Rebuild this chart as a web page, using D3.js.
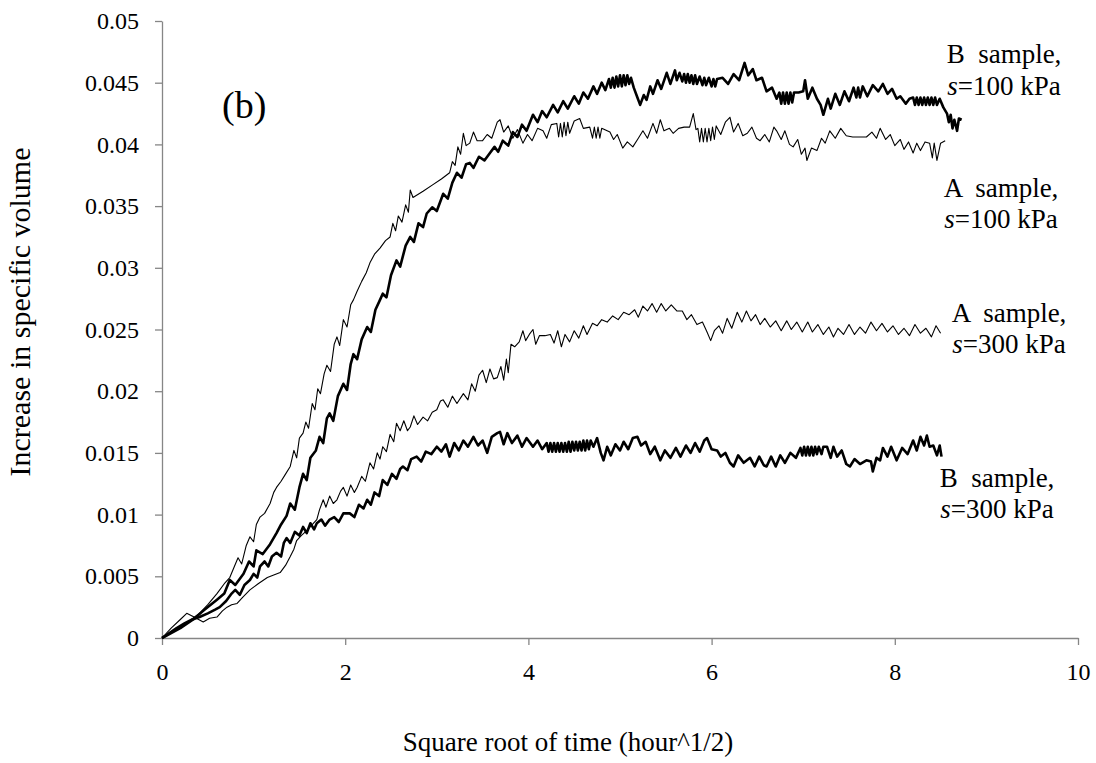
<!DOCTYPE html>
<html>
<head>
<meta charset="utf-8">
<script src="https://cdn.jsdelivr.net/npm/d3@7"></script>
<style>
  body { margin: 0; background: #fff; }
  text { font-family: "Liberation Serif", "Times New Roman", serif; }
</style>
</head>
<body>
<div id="chart"></div>
<script>
// ---- data : [sqrt(t), increase in specific volume] ----
var xTicks = [0, 2, 4, 6, 8, 10];
var yTicks = [0, 0.005, 0.01, 0.015, 0.02, 0.025, 0.03, 0.035, 0.04, 0.045, 0.05];

var bSample100 = [[0,0],[0.1,0.0004],[0.2,0.0008],[0.34,0.0015],[0.45,0.0022],[0.6,0.0031],[0.68,0.0036],[0.74,0.0047],[0.8,0.0043],[0.89,0.0052],[0.95,0.0062],[1.0,0.0058],[1.03,0.0071],[1.1,0.0068],[1.18,0.0076],[1.25,0.0085],[1.3,0.0092],[1.36,0.0099],[1.4,0.0109],[1.45,0.0104],[1.5,0.0122],[1.54,0.0133],[1.58,0.0128],[1.62,0.0146],[1.68,0.0152],[1.72,0.0163],[1.76,0.0158],[1.8,0.0178],[1.83,0.0182],[1.87,0.0176],[1.92,0.0196],[1.98,0.0206],[2.02,0.0201],[2.06,0.0222],[2.09,0.023],[2.13,0.0226],[2.18,0.0242],[2.24,0.0252],[2.28,0.0248],[2.33,0.0266],[2.38,0.0274],[2.41,0.0279],[2.45,0.0276],[2.5,0.0294],[2.56,0.0306],[2.6,0.0301],[2.66,0.0318],[2.71,0.0325],[2.75,0.0321],[2.8,0.0336],[2.85,0.0333],[2.89,0.0344],[2.95,0.0349],[3.0,0.0346],[3.07,0.036],[3.12,0.0356],[3.17,0.0369],[3.22,0.0377],[3.27,0.0373],[3.32,0.0384],[3.36,0.0385],[3.4,0.0381],[3.46,0.039],[3.52,0.0387],[3.58,0.0393],[3.63,0.0398],[3.67,0.0394],[3.72,0.0403],[3.78,0.0399],[3.83,0.041],[3.88,0.0406],[3.93,0.0416],[3.98,0.0411],[4.05,0.0424],[4.1,0.0418],[4.15,0.0427],[4.2,0.0422],[4.27,0.0432],[4.32,0.0426],[4.38,0.0435],[4.43,0.0429],[4.5,0.0439],[4.55,0.0433],[4.6,0.0442],[4.65,0.0437],[4.71,0.0447],[4.75,0.0441],[4.8,0.045],[4.84,0.0444],[4.88,0.0453],[4.9,0.0446],[4.92,0.0454],[4.94,0.0446],[4.96,0.0455],[4.98,0.0447],[5.0,0.0456],[5.02,0.0447],[5.04,0.0456],[5.06,0.0448],[5.08,0.0456],[5.1,0.0449],[5.12,0.0454],[5.15,0.0446],[5.19,0.0438],[5.22,0.0432],[5.26,0.044],[5.29,0.0436],[5.33,0.0447],[5.36,0.0441],[5.41,0.0452],[5.45,0.0445],[5.51,0.0458],[5.55,0.0449],[5.6,0.046],[5.62,0.0452],[5.65,0.0458],[5.68,0.0451],[5.7,0.0457],[5.72,0.045],[5.74,0.0457],[5.76,0.045],[5.78,0.0456],[5.8,0.0449],[5.82,0.0456],[5.84,0.0449],[5.87,0.0455],[5.9,0.0448],[5.92,0.0454],[5.94,0.0448],[5.97,0.0454],[6.0,0.0447],[6.02,0.0453],[6.04,0.0447],[6.06,0.0453],[6.12,0.0454],[6.18,0.0449],[6.24,0.0457],[6.3,0.0452],[6.36,0.0466],[6.4,0.0456],[6.45,0.0461],[6.49,0.0452],[6.55,0.0454],[6.6,0.0443],[6.66,0.0446],[6.71,0.0437],[6.74,0.0442],[6.76,0.0433],[6.78,0.0442],[6.8,0.0433],[6.82,0.0442],[6.84,0.0433],[6.86,0.0442],[6.88,0.0434],[6.9,0.0442],[6.95,0.0442],[7.0,0.0443],[7.02,0.0452],[7.05,0.0437],[7.1,0.0446],[7.15,0.0437],[7.19,0.0432],[7.22,0.0424],[7.27,0.0437],[7.3,0.0429],[7.35,0.0441],[7.4,0.0432],[7.45,0.0443],[7.5,0.0435],[7.55,0.0446],[7.58,0.0438],[7.6,0.0446],[7.62,0.0438],[7.65,0.0447],[7.7,0.0439],[7.76,0.0448],[7.82,0.0443],[7.87,0.0449],[7.92,0.0441],[7.97,0.0445],[8.02,0.0437],[8.06,0.0439],[8.12,0.0433],[8.16,0.0437],[8.2,0.0438],[8.22,0.0432],[8.24,0.0438],[8.26,0.0432],[8.28,0.0438],[8.3,0.0432],[8.32,0.0438],[8.34,0.0432],[8.36,0.0438],[8.38,0.0432],[8.4,0.0438],[8.42,0.0432],[8.44,0.0438],[8.46,0.0432],[8.49,0.0437],[8.53,0.043],[8.57,0.0425],[8.59,0.0418],[8.61,0.0424],[8.63,0.0413],[8.65,0.042],[8.68,0.0411],[8.7,0.0421],[8.73,0.042]];

var aSample100 = [[0,0],[0.15,0.0007],[0.3,0.0014],[0.41,0.002],[0.5,0.0027],[0.6,0.0036],[0.68,0.0044],[0.74,0.0049],[0.79,0.0058],[0.83,0.0065],[0.87,0.006],[0.92,0.0075],[0.96,0.0082],[1.0,0.0078],[1.03,0.0092],[1.07,0.0098],[1.12,0.0101],[1.18,0.0109],[1.22,0.0118],[1.25,0.0122],[1.3,0.0127],[1.35,0.0133],[1.4,0.0139],[1.44,0.0152],[1.47,0.0146],[1.5,0.0162],[1.54,0.0166],[1.57,0.0175],[1.6,0.017],[1.64,0.019],[1.67,0.0185],[1.7,0.0202],[1.73,0.0198],[1.77,0.0214],[1.8,0.0221],[1.84,0.0216],[1.88,0.0238],[1.91,0.0244],[1.94,0.0237],[1.98,0.0258],[2.02,0.0252],[2.06,0.027],[2.09,0.0274],[2.13,0.0281],[2.18,0.0289],[2.23,0.0296],[2.27,0.0304],[2.32,0.0311],[2.38,0.0316],[2.44,0.0322],[2.49,0.0325],[2.52,0.0336],[2.55,0.033],[2.58,0.0342],[2.62,0.0337],[2.66,0.0351],[2.69,0.0345],[2.71,0.0363],[2.74,0.0357],[2.85,0.0362],[2.95,0.0367],[3.05,0.0372],[3.14,0.0377],[3.17,0.0386],[3.2,0.0383],[3.23,0.0398],[3.26,0.0392],[3.29,0.0409],[3.32,0.0399],[3.36,0.0401],[3.4,0.041],[3.44,0.0403],[3.5,0.0403],[3.55,0.0408],[3.6,0.0405],[3.66,0.0418],[3.69,0.042],[3.73,0.041],[3.78,0.0415],[3.83,0.0405],[3.88,0.0412],[3.94,0.0401],[3.99,0.0408],[4.04,0.0403],[4.1,0.0413],[4.16,0.0411],[4.2,0.0405],[4.25,0.0416],[4.31,0.0417],[4.33,0.0406],[4.35,0.0417],[4.37,0.0406],[4.39,0.0418],[4.41,0.0407],[4.43,0.0418],[4.45,0.0409],[4.5,0.0419],[4.56,0.0421],[4.6,0.0413],[4.67,0.0414],[4.7,0.0405],[4.72,0.0414],[4.74,0.0405],[4.76,0.0414],[4.78,0.0405],[4.8,0.0413],[4.83,0.0412],[4.89,0.041],[4.93,0.0404],[4.97,0.0408],[5.03,0.0397],[5.08,0.0402],[5.14,0.0398],[5.2,0.0405],[5.25,0.0411],[5.3,0.0405],[5.36,0.0417],[5.4,0.0409],[5.44,0.042],[5.48,0.0411],[5.54,0.0413],[5.58,0.0409],[5.64,0.0413],[5.7,0.0414],[5.76,0.0414],[5.8,0.0425],[5.83,0.0412],[5.85,0.0413],[5.87,0.0402],[5.89,0.0413],[5.91,0.0402],[5.93,0.0413],[5.95,0.0402],[5.97,0.0413],[5.99,0.0403],[6.01,0.0414],[6.03,0.0404],[6.05,0.0415],[6.1,0.0408],[6.15,0.0418],[6.2,0.0422],[6.24,0.041],[6.29,0.0417],[6.34,0.0407],[6.39,0.0409],[6.44,0.0414],[6.49,0.0405],[6.53,0.0403],[6.58,0.0408],[6.63,0.0402],[6.68,0.0414],[6.71,0.0411],[6.76,0.0404],[6.8,0.0411],[6.85,0.04],[6.89,0.0398],[6.94,0.0404],[6.98,0.0392],[7.02,0.0397],[7.04,0.0387],[7.09,0.0397],[7.15,0.0395],[7.2,0.0405],[7.24,0.0401],[7.29,0.0411],[7.35,0.0405],[7.41,0.0413],[7.47,0.0407],[7.54,0.0406],[7.61,0.0406],[7.69,0.0406],[7.75,0.041],[7.8,0.0405],[7.84,0.0413],[7.9,0.0404],[7.95,0.0408],[8.0,0.0399],[8.06,0.0404],[8.1,0.0396],[8.15,0.0402],[8.2,0.0393],[8.24,0.0401],[8.28,0.0395],[8.33,0.0402],[8.38,0.0401],[8.41,0.0389],[8.43,0.0401],[8.46,0.0387],[8.5,0.0401],[8.55,0.0403]];

var aSample300 = [[0,0],[0.1,0.0008],[0.2,0.0015],[0.27,0.002],[0.35,0.0017],[0.45,0.0013],[0.52,0.0016],[0.6,0.0017],[0.66,0.0022],[0.71,0.0025],[0.76,0.0027],[0.82,0.0028],[0.88,0.0033],[0.96,0.0039],[1.05,0.0044],[1.15,0.0049],[1.22,0.0051],[1.29,0.0053],[1.35,0.0059],[1.4,0.0066],[1.44,0.0072],[1.47,0.0079],[1.52,0.0083],[1.58,0.0087],[1.63,0.0091],[1.69,0.0096],[1.72,0.0104],[1.76,0.0112],[1.79,0.0106],[1.83,0.0115],[1.87,0.0109],[1.91,0.0112],[1.95,0.0119],[1.98,0.0122],[2.02,0.0115],[2.06,0.0124],[2.1,0.0118],[2.13,0.0122],[2.18,0.0131],[2.22,0.0127],[2.27,0.0142],[2.31,0.0137],[2.35,0.015],[2.38,0.0145],[2.41,0.0155],[2.45,0.0151],[2.49,0.0165],[2.53,0.0159],[2.56,0.0174],[2.6,0.0168],[2.64,0.0176],[2.68,0.0168],[2.71,0.0171],[2.75,0.018],[2.79,0.0173],[2.85,0.0179],[2.9,0.0176],[2.95,0.0183],[3.0,0.0185],[3.04,0.0192],[3.07,0.0193],[3.12,0.0187],[3.17,0.0196],[3.22,0.019],[3.29,0.0198],[3.34,0.0193],[3.38,0.0206],[3.42,0.02],[3.46,0.0213],[3.5,0.0217],[3.54,0.0207],[3.58,0.0218],[3.62,0.021],[3.66,0.0211],[3.7,0.022],[3.73,0.0209],[3.76,0.0226],[3.78,0.0215],[3.81,0.0238],[3.85,0.0236],[3.9,0.024],[3.94,0.0249],[3.97,0.0241],[4.01,0.0246],[4.05,0.025],[4.08,0.0238],[4.12,0.0245],[4.18,0.0245],[4.24,0.0246],[4.28,0.0239],[4.32,0.0249],[4.36,0.0236],[4.4,0.0246],[4.45,0.024],[4.5,0.0249],[4.55,0.0243],[4.6,0.0253],[4.64,0.0246],[4.7,0.0255],[4.75,0.0253],[4.8,0.0258],[4.86,0.0256],[4.92,0.0261],[4.98,0.0258],[5.04,0.0264],[5.1,0.0262],[5.16,0.0266],[5.2,0.026],[5.25,0.0269],[5.3,0.0265],[5.35,0.0271],[5.4,0.0264],[5.45,0.0271],[5.5,0.0265],[5.56,0.027],[5.62,0.0265],[5.68,0.0265],[5.73,0.0258],[5.78,0.0262],[5.84,0.0254],[5.9,0.0256],[5.95,0.0248],[5.99,0.0241],[6.03,0.0249],[6.08,0.0253],[6.12,0.0247],[6.17,0.0259],[6.22,0.0251],[6.28,0.0264],[6.33,0.0256],[6.38,0.0265],[6.43,0.0257],[6.48,0.0262],[6.53,0.0254],[6.58,0.0259],[6.64,0.0252],[6.7,0.0257],[6.76,0.0249],[6.82,0.0257],[6.87,0.025],[6.93,0.0256],[6.99,0.0248],[7.05,0.0256],[7.1,0.0248],[7.16,0.0254],[7.22,0.0246],[7.28,0.0252],[7.33,0.0244],[7.38,0.0251],[7.44,0.0246],[7.5,0.0254],[7.56,0.0246],[7.62,0.0252],[7.68,0.0247],[7.74,0.0256],[7.8,0.0249],[7.86,0.0255],[7.92,0.0248],[7.98,0.0253],[8.04,0.0246],[8.1,0.0251],[8.16,0.0245],[8.22,0.0254],[8.28,0.0247],[8.34,0.0251],[8.4,0.0244],[8.45,0.0253],[8.5,0.0247]];

var bSample300 = [[0,0],[0.08,0.0004],[0.16,0.0008],[0.25,0.0012],[0.33,0.0015],[0.41,0.0017],[0.5,0.002],[0.58,0.0023],[0.63,0.0025],[0.7,0.003],[0.76,0.0036],[0.8,0.0039],[0.85,0.0035],[0.9,0.0043],[0.96,0.0047],[1.0,0.0052],[1.04,0.0049],[1.07,0.0058],[1.12,0.0062],[1.16,0.0058],[1.2,0.0066],[1.25,0.0069],[1.3,0.0066],[1.33,0.0077],[1.36,0.0081],[1.4,0.0077],[1.45,0.0086],[1.5,0.0083],[1.54,0.009],[1.58,0.0085],[1.62,0.0093],[1.66,0.0088],[1.69,0.0093],[1.74,0.0096],[1.78,0.0091],[1.83,0.0096],[1.88,0.0098],[1.93,0.0094],[1.98,0.0101],[2.05,0.0101],[2.1,0.0098],[2.15,0.0108],[2.2,0.0105],[2.24,0.0112],[2.28,0.0108],[2.32,0.0118],[2.37,0.0115],[2.41,0.0128],[2.46,0.0124],[2.51,0.0133],[2.56,0.0129],[2.6,0.0137],[2.63,0.0139],[2.68,0.0136],[2.72,0.0145],[2.78,0.0147],[2.83,0.0143],[2.88,0.0151],[2.94,0.0149],[3.0,0.0155],[3.05,0.0151],[3.1,0.0157],[3.14,0.0147],[3.19,0.0158],[3.24,0.0152],[3.29,0.016],[3.34,0.0155],[3.4,0.0163],[3.45,0.0156],[3.5,0.016],[3.55,0.015],[3.6,0.0163],[3.66,0.0166],[3.69,0.0167],[3.73,0.0157],[3.77,0.0166],[3.82,0.0158],[3.88,0.0164],[3.93,0.0155],[3.98,0.0162],[4.05,0.0155],[4.1,0.016],[4.15,0.0153],[4.2,0.0158],[4.22,0.0151],[4.24,0.0158],[4.26,0.0151],[4.28,0.0158],[4.3,0.0151],[4.32,0.0158],[4.34,0.0151],[4.36,0.0158],[4.38,0.0151],[4.4,0.0158],[4.42,0.0151],[4.44,0.0159],[4.46,0.0151],[4.48,0.0159],[4.5,0.0152],[4.52,0.0159],[4.54,0.0152],[4.56,0.0159],[4.58,0.0152],[4.6,0.016],[4.62,0.0152],[4.64,0.016],[4.66,0.0153],[4.68,0.016],[4.71,0.0155],[4.75,0.0162],[4.79,0.015],[4.82,0.0144],[4.86,0.0155],[4.9,0.0148],[4.95,0.0157],[5.0,0.0152],[5.04,0.0159],[5.09,0.0153],[5.14,0.0162],[5.19,0.0163],[5.23,0.0156],[5.28,0.0159],[5.33,0.0149],[5.38,0.0155],[5.44,0.0144],[5.49,0.0152],[5.55,0.0146],[5.61,0.0154],[5.66,0.0147],[5.72,0.0156],[5.77,0.015],[5.82,0.0158],[5.87,0.0151],[5.92,0.016],[5.95,0.0162],[6.0,0.0153],[6.06,0.0152],[6.1,0.0147],[6.15,0.015],[6.2,0.0142],[6.24,0.0139],[6.29,0.0148],[6.35,0.0142],[6.42,0.0146],[6.47,0.0139],[6.52,0.0147],[6.57,0.014],[6.6,0.0139],[6.65,0.0147],[6.7,0.0139],[6.75,0.0148],[6.8,0.0142],[6.86,0.015],[6.92,0.0146],[6.97,0.0154],[6.99,0.0148],[7.01,0.0155],[7.03,0.0148],[7.05,0.0155],[7.07,0.0148],[7.09,0.0155],[7.11,0.0148],[7.13,0.0155],[7.15,0.0149],[7.17,0.0155],[7.2,0.0149],[7.22,0.0155],[7.26,0.0155],[7.3,0.0146],[7.33,0.0155],[7.37,0.0147],[7.42,0.0152],[7.47,0.0141],[7.51,0.0139],[7.56,0.0145],[7.62,0.0141],[7.69,0.0144],[7.74,0.0143],[7.76,0.0135],[7.8,0.0146],[7.84,0.0144],[7.87,0.0154],[7.92,0.0147],[7.96,0.0155],[8.02,0.0144],[8.08,0.0154],[8.14,0.0149],[8.2,0.016],[8.24,0.0152],[8.28,0.0163],[8.32,0.0156],[8.35,0.0164],[8.38,0.0155],[8.42,0.0156],[8.46,0.0148],[8.49,0.0156],[8.51,0.0147]];

// series: data, stroke width, two-line label
var series = [
    {data: aSample100, width: 1.1, label: ["A  sample,", "100 kPa"]},
    {data: aSample300, width: 1.1, label: ["A  sample,", "300 kPa"]},
    {data: bSample300, width: 2.6, label: ["B  sample,", "300 kPa"]},
    {data: bSample100, width: 2.6, label: ["B  sample,", "100 kPa"]}
];

// ---- layout ----
var W = 1096, H = 763;
var margin = {top: 21, right: 18, bottom: 125, left: 162};
var width = W - margin.left - margin.right;
var height = H - margin.top - margin.bottom;
var axisColor = "#868686";

var svg = d3.select("#chart").append("svg")
    .attr("width", W)
    .attr("height", H);

var g = svg.append("g")
    .attr("transform", "translate(" + margin.left + "," + margin.top + ")");

var x = d3.scaleLinear().domain([0, 10]).range([0, width]);
var y = d3.scaleLinear().domain([0, 0.05]).range([height, 0]);

// axes
var yAxis = g.append("g")
    .call(d3.axisLeft(y).tickValues(yTicks).tickSize(7).tickSizeOuter(0).tickPadding(16)
        .tickFormat(function(d) { return d === 0 ? "0" : String(+d.toFixed(3)); }));

var xAxis = g.append("g")
    .attr("transform", "translate(0," + height + ")")
    .call(d3.axisBottom(x).tickValues(xTicks).tickSize(7).tickSizeOuter(0).tickPadding(18)
        .tickFormat(d3.format("d")));

[xAxis, yAxis].forEach(function(a) {
    a.attr("font-family", "Liberation Serif").attr("font-size", 24);
    a.select(".domain").attr("stroke", axisColor).attr("stroke-width", 1.3);
    a.selectAll(".tick line").attr("stroke", axisColor).attr("stroke-width", 1.3);
    a.selectAll(".tick text").attr("fill", "#000");
});

// lines
var line = d3.line()
    .x(function(d) { return x(d[0]); })
    .y(function(d) { return y(d[1]); });

g.selectAll("path.series")
    .data(series)
    .enter()
    .append("path")
    .attr("class", "series")
    .attr("fill", "none")
    .attr("stroke", "#000")
    .attr("stroke-width", function(d) { return d.width; })
    .attr("stroke-linejoin", "round")
    .attr("d", function(d) { return line(d.data); });

// series labels (positions in chart pixels)
var labelPos = [
    {cx: 1001, y1: 197, y2: 228},
    {cx: 1009, y1: 322, y2: 353},
    {cx: 997, y1: 487, y2: 518},
    {cx: 1004, y1: 63, y2: 95}
];

series.forEach(function(s, i) {
    var p = labelPos[i];
    svg.append("text")
        .attr("x", p.cx).attr("y", p.y1)
        .attr("text-anchor", "middle")
        .style("font-size", "27px")
        .style("white-space", "pre")
        .text(s.label[0]);
    var t = svg.append("text")
        .attr("x", p.cx).attr("y", p.y2)
        .attr("text-anchor", "middle")
        .style("font-size", "27px");
    t.append("tspan").style("font-style", "italic").text("s");
    t.append("tspan").text("=" + s.label[1]);
});

// panel label
svg.append("text")
    .attr("x", 222).attr("y", 118)
    .style("font-size", "38px")
    .text("(b)");

// axis titles
svg.append("text")
    .attr("x", 568).attr("y", 751)
    .attr("text-anchor", "middle")
    .style("font-size", "27px")
    .text("Square root of time (hour^1/2)");

svg.append("text")
    .attr("transform", "translate(30,312) rotate(-90)")
    .attr("text-anchor", "middle")
    .style("font-size", "30px")
    .text("Increase in specific volume");
</script>
</body>
</html>
